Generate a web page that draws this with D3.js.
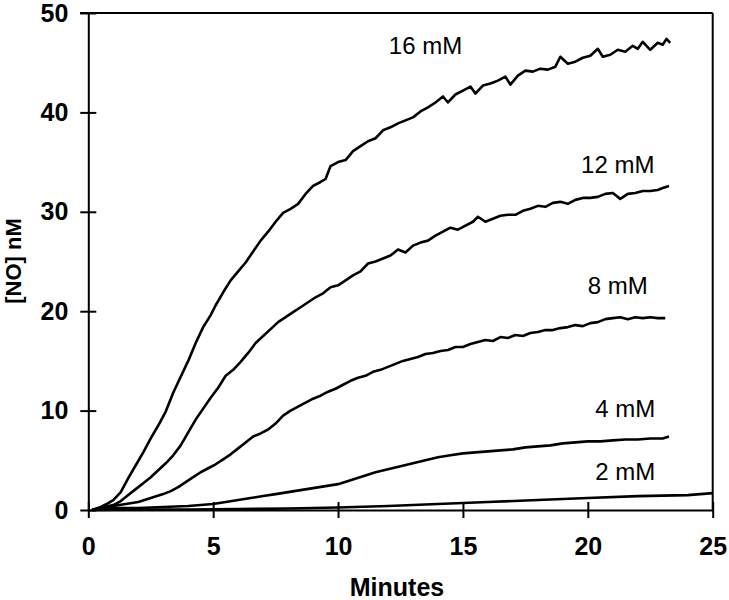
<!DOCTYPE html>
<html>
<head>
<meta charset="utf-8">
<script src="https://cdn.jsdelivr.net/npm/d3@7/dist/d3.min.js"></script>
<style>
html,body{margin:0;padding:0;background:#fff;}
svg{display:block;}
</style>
</head>
<body>
<svg id="chart" width="729" height="600"></svg>
<script>
// ---- data ----
const xTicks = [0, 5, 10, 15, 20, 25];
const yTicks = [0, 10, 20, 30, 40, 50];
const seriesNames = ["16 mM", "12 mM", "8 mM", "4 mM", "2 mM"];
const xLabel = "Minutes";
const yLabel = "[NO] nM";

const s16 = [[0.15,0],[0.5,0.3],[0.8,0.7],[1.0,1.0],[1.3,1.8],[1.6,3.2],[1.9,4.5],[2.2,5.8],[2.5,7.2],[2.8,8.5],[3.1,9.9],[3.4,11.8],[3.7,13.4],[4.0,15.0],[4.3,16.8],[4.6,18.4],[4.9,19.6],[5.1,20.6],[5.4,21.9],[5.7,23.1],[6.0,24.0],[6.3,24.9],[6.6,26.0],[6.9,27.1],[7.2,28.0],[7.5,29.0],[7.8,29.9],[8.1,30.3],[8.4,30.8],[8.7,31.8],[9.0,32.6],[9.3,33.0],[9.5,33.3],[9.7,34.6],[10.0,35.0],[10.3,35.2],[10.6,36.1],[10.9,36.6],[11.2,37.1],[11.5,37.4],[11.8,38.2],[12.1,38.5],[12.4,38.9],[12.7,39.2],[13.0,39.5],[13.3,40.1],[13.6,40.5],[13.9,41.0],[14.2,41.6],[14.4,41.0],[14.7,41.8],[15.0,42.2],[15.3,42.6],[15.5,41.9],[15.8,42.7],[16.1,42.9],[16.4,43.2],[16.7,43.6],[16.9,42.8],[17.2,43.7],[17.5,44.2],[17.8,44.1],[18.1,44.4],[18.4,44.3],[18.7,44.6],[18.9,45.6],[19.2,44.9],[19.5,45.1],[19.8,45.5],[20.1,45.7],[20.4,46.4],[20.6,45.6],[20.9,45.8],[21.2,46.3],[21.5,46.1],[21.8,46.7],[22.0,46.4],[22.2,47.1],[22.5,46.3],[22.8,47.0],[23.0,46.8],[23.15,47.4],[23.3,47.0]];
const s12 = [[0.15,0],[0.6,0.3],[1.0,0.5],[1.3,0.9],[1.6,1.5],[1.9,2.1],[2.2,2.7],[2.5,3.3],[2.8,4.0],[3.1,4.7],[3.4,5.5],[3.7,6.5],[4.0,7.8],[4.3,9.1],[4.6,10.2],[4.9,11.3],[5.2,12.3],[5.5,13.5],[5.8,14.1],[6.1,14.9],[6.4,15.8],[6.7,16.8],[7.0,17.5],[7.3,18.2],[7.6,18.9],[7.9,19.4],[8.2,19.9],[8.5,20.4],[8.8,20.9],[9.1,21.4],[9.4,21.8],[9.7,22.4],[10.0,22.6],[10.3,23.1],[10.6,23.6],[10.9,24.0],[11.2,24.8],[11.5,25.0],[11.8,25.3],[12.1,25.6],[12.4,26.2],[12.7,25.9],[13.0,26.6],[13.3,26.9],[13.6,27.1],[13.9,27.6],[14.2,28.0],[14.5,28.4],[14.8,28.2],[15.1,28.6],[15.4,29.0],[15.6,29.5],[15.9,29.0],[16.2,29.3],[16.5,29.6],[16.8,29.7],[17.1,29.7],[17.4,30.1],[17.7,30.3],[18.0,30.6],[18.3,30.5],[18.6,30.9],[18.9,31.0],[19.2,30.8],[19.5,31.2],[19.8,31.4],[20.1,31.4],[20.4,31.5],[20.7,31.8],[21.0,31.9],[21.3,31.3],[21.6,31.8],[21.9,31.9],[22.2,32.1],[22.5,32.1],[22.8,32.2],[23.0,32.4],[23.25,32.6]];
const s8 = [[0.15,0],[0.6,0.2],[1.0,0.4],[1.5,0.6],[2.0,0.8],[2.5,1.2],[3.0,1.6],[3.3,1.9],[3.6,2.3],[3.9,2.8],[4.2,3.3],[4.5,3.8],[4.8,4.2],[5.1,4.6],[5.4,5.1],[5.7,5.6],[6.0,6.2],[6.3,6.8],[6.6,7.4],[6.9,7.7],[7.2,8.1],[7.5,8.7],[7.8,9.5],[8.1,10.0],[8.4,10.4],[8.7,10.8],[9.0,11.2],[9.3,11.5],[9.6,11.9],[9.9,12.2],[10.2,12.6],[10.5,13.0],[10.8,13.3],[11.1,13.5],[11.4,13.9],[11.7,14.1],[12.0,14.4],[12.3,14.7],[12.6,15.0],[12.9,15.2],[13.2,15.4],[13.5,15.7],[13.8,15.8],[14.1,16.0],[14.4,16.1],[14.7,16.4],[15.0,16.4],[15.3,16.7],[15.6,16.9],[15.9,17.1],[16.2,17.0],[16.5,17.4],[16.8,17.3],[17.1,17.6],[17.4,17.5],[17.7,17.8],[18.0,17.9],[18.3,18.1],[18.6,18.1],[18.9,18.3],[19.2,18.4],[19.5,18.6],[19.8,18.5],[20.1,18.8],[20.4,18.9],[20.7,19.2],[21.0,19.3],[21.3,19.4],[21.6,19.2],[21.9,19.4],[22.2,19.3],[22.5,19.4],[22.8,19.3],[23.1,19.3]];
const s4 = [[0.15,0],[1.0,0.2],[2.0,0.2],[3.0,0.3],[4.0,0.4],[5.0,0.6],[5.5,0.8],[6.0,1.0],[6.5,1.2],[7.0,1.4],[7.5,1.6],[8.0,1.8],[8.5,2.0],[9.0,2.2],[9.5,2.4],[10.0,2.6],[10.5,3.0],[11.0,3.4],[11.5,3.8],[12.0,4.1],[12.5,4.4],[13.0,4.7],[13.5,5.0],[14.0,5.3],[14.5,5.5],[15.0,5.7],[15.5,5.8],[16.0,5.9],[16.5,6.0],[17.0,6.1],[17.5,6.3],[18.0,6.4],[18.5,6.5],[19.0,6.7],[19.5,6.8],[20.0,6.9],[20.5,6.9],[21.0,7.0],[21.5,7.1],[22.0,7.1],[22.5,7.2],[23.0,7.2],[23.25,7.4]];
const s2 = [[0.15,0],[2,0.05],[4,0.05],[6,0.1],[8,0.15],[10,0.25],[12,0.4],[14,0.6],[16,0.8],[18,1.0],[20,1.2],[22,1.4],[24,1.5],[25,1.7]];
const seriesData = [s16, s12, s8, s4, s2];
// label anchor points in data units (x = label centre, y = baseline)
const labelX = [13.5, 21.2, 21.2, 21.5, 21.5];
const labelY = [45.9, 33.9, 21.7, 9.4, 3.0];

// ---- layout ----
const svg = d3.select("#chart");
const x = d3.scaleLinear().domain([0, 25]).range([88.3, 712.7]);
const y = d3.scaleLinear().domain([0, 50]).range([510, 13]);
const font = "Liberation Sans, Arial, Helvetica, sans-serif";

// frame: top and right
svg.append("line").attr("x1", 80).attr("x2", x(25)).attr("y1", y(50)).attr("y2", y(50))
  .attr("stroke", "#000").attr("stroke-width", 2);
svg.append("line").attr("x1", x(25)).attr("x2", x(25)).attr("y1", y(50)).attr("y2", y(0))
  .attr("stroke", "#000").attr("stroke-width", 2);

// y axis
const gy = svg.append("g").attr("transform", `translate(${x(0)},0)`)
  .call(d3.axisLeft(y).tickValues(yTicks).tickSize(8).tickSizeOuter(0).tickPadding(12));
gy.select(".domain").attr("stroke-width", 2);
gy.selectAll(".tick line").attr("x1", 8).attr("stroke-width", 2);
gy.selectAll(".tick text").attr("font-family", font).attr("font-size", 25).attr("font-weight", "bold").attr("fill", "#000");

// x axis
const gx = svg.append("g").attr("transform", `translate(0,${y(0)})`)
  .call(d3.axisBottom(x).tickValues(xTicks).tickSize(8).tickSizeOuter(0).tickPadding(19));
gx.select(".domain").attr("stroke-width", 2);
gx.selectAll(".tick line").attr("y1", -8).attr("stroke-width", 2);
gx.selectAll(".tick text").attr("font-family", font).attr("font-size", 25).attr("font-weight", "bold").attr("fill", "#000");

// axis titles
svg.append("text").attr("x", 397).attr("y", 596).attr("text-anchor", "middle")
  .attr("font-family", font).attr("font-size", 25).attr("font-weight", "bold").text(xLabel);
svg.append("text").attr("transform", "translate(21,261) rotate(-90)").attr("text-anchor", "middle")
  .attr("font-family", font).attr("font-size", 22).attr("font-weight", "bold").text(yLabel);

// lines
const line = d3.line().x(d => x(d[0])).y(d => y(d[1]));
svg.append("g").selectAll("path").data(seriesData).join("path")
  .attr("d", line).attr("fill", "none").attr("stroke", "#000")
  .attr("stroke-width", 2.6).attr("stroke-linejoin", "round");

// series labels
svg.append("g").selectAll("text").data(seriesNames).join("text")
  .attr("x", (d, i) => x(labelX[i]))
  .attr("y", (d, i) => y(labelY[i]))
  .attr("text-anchor", "middle")
  .attr("font-family", font).attr("font-size", 24).attr("fill", "#000")
  .text(d => d);
</script>
</body>
</html>
